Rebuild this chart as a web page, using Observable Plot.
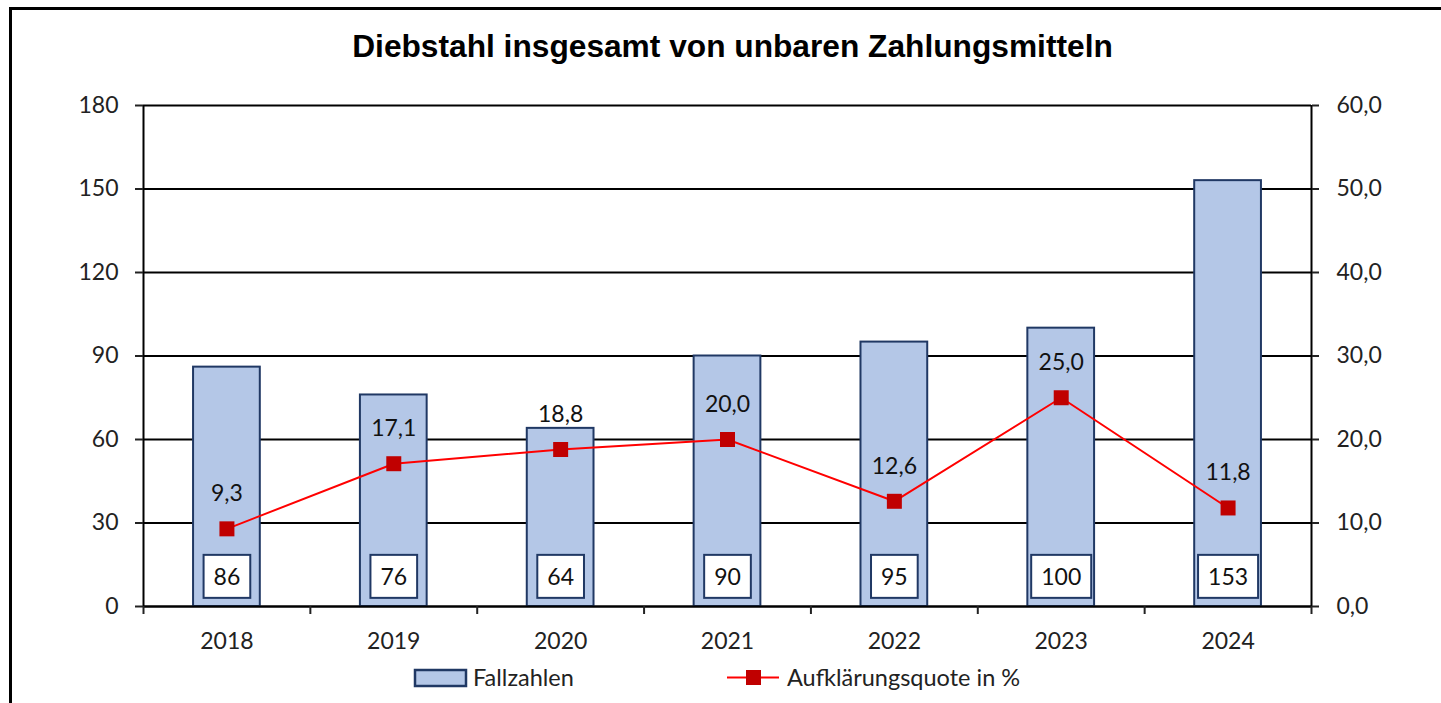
<!DOCTYPE html>
<html><head><meta charset="utf-8">
<script src="https://cdn.jsdelivr.net/npm/d3@7"></script>
<script src="https://cdn.jsdelivr.net/npm/@observablehq/plot@0.6"></script>
<style>
html,body{margin:0;padding:0;background:#fff;overflow:hidden;width:1441px;height:703px;position:relative;}
#frame{position:absolute;left:9px;top:7px;width:1500px;height:800px;border:3px solid #000;box-sizing:border-box;z-index:5;pointer-events:none;}
#title{position:absolute;left:0;width:1465px;top:28px;line-height:36px;text-align:center;font:bold 31.7px "Liberation Sans",Arial,sans-serif;color:#000;white-space:nowrap;}
#chart{position:absolute;left:0;top:80px;}
#legend{position:absolute;left:0;top:650px;}
</style>
</head><body>
<div id="frame"></div>
<div id="title">Diebstahl insgesamt von unbaren Zahlungsmitteln</div>
<div id="chart"></div>
<svg id="legend" width="1441" height="53" font-family="Lato, sans-serif" font-size="23.5">
  <rect x="415" y="20" width="51" height="16" fill="#B4C7E7" stroke="#203864" stroke-width="2.5"></rect>
  <text x="473" y="36" fill="#222">Fallzahlen</text>
  <line x1="727" x2="779" y1="27.5" y2="27.5" stroke="#FF0000" stroke-width="2"></line>
  <rect x="746" y="20" width="15" height="15" fill="#C00000"></rect>
  <text x="787" y="36" fill="#222">Aufklärungsquote in %</text>
</svg>
<script>
const years = [2018, 2019, 2020, 2021, 2022, 2023, 2024];
const cases = [86, 76, 64, 90, 95, 100, 153];
const quote = [9.3, 17.1, 18.8, 20.0, 12.6, 25.0, 11.8];
const quoteLabels = ["9,3", "17,1", "18,8", "20,0", "12,6", "25,0", "11,8"];
const leftTicks = [0, 30, 60, 90, 120, 150, 180];
const rightTicks = [0, 10, 20, 30, 40, 50, 60];
const rightTickLabels = ["0,0", "10,0", "20,0", "30,0", "40,0", "50,0", "60,0"];

const ratio = 180 / 60;
const data = years.map((year, i) => ({year, cases: cases[i], quote: quote[i], qLabel: quoteLabels[i]}));
const bounds = years.map(y => y - 0.5).concat([years[years.length - 1] + 0.5]);
const halfBar = 0.2;

const chart = Plot.plot({
  width: 1441, height: 574,
  marginLeft: 143, marginRight: 130, marginTop: 25, marginBottom: 48,
  style: {fontFamily: "Lato, sans-serif", fontSize: "23px", color: "#222", background: "transparent", overflow: "visible"},
  x: {type: "linear", domain: [bounds[0], bounds[bounds.length - 1]]},
  y: {domain: [0, 180]},
  marks: [
    Plot.ruleY(leftTicks, {stroke: "#000", strokeWidth: 2}),
    Plot.rectY(data, {x1: d => d.year - halfBar, x2: d => d.year + halfBar, y: "cases", fill: "#B4C7E7", stroke: "#203864", strokeWidth: 2}),
    Plot.ruleY([0], {stroke: "#000", strokeWidth: 2}),
    Plot.ruleX([bounds[0], bounds[bounds.length - 1]], {stroke: "#000", strokeWidth: 2}),
    Plot.axisY({ticks: leftTicks, tickSize: 8, tickPadding: 17, strokeWidth: 2, label: null, tickFormat: d => String(d)}),
    Plot.axisY({anchor: "right", ticks: rightTicks.map(t => t * ratio), tickSize: 7, tickPadding: 18, strokeWidth: 2, label: null,
      tickFormat: d => rightTickLabels[rightTicks.indexOf(Math.round(d / ratio))]}),
    Plot.axisX({ticks: bounds, tickFormat: () => "", tickSize: 8, strokeWidth: 2, label: null}),
    Plot.axisX({ticks: years, tickFormat: d => String(d), tickSize: 0, tickPadding: 26, label: null}),
    Plot.line(data, {x: "year", y: d => d.quote * ratio, stroke: "#FF0000", strokeWidth: 2}),
    Plot.dot(data, {x: "year", y: d => d.quote * ratio, symbol: "square", r: 8.46, fill: "#C00000", stroke: "none"}),
    Plot.text(data, {x: "year", y: d => d.quote * ratio, text: "qLabel", dy: -35, fill: "#111"}),
    Plot.text(data, {x: "year", y: 0, text: d => String(d.cases), dy: -29, fill: "#111"})
  ]
});
document.getElementById("chart").appendChild(chart);

const ns = "http://www.w3.org/2000/svg";
const textGroups = chart.querySelectorAll('g[aria-label="text"]');
const caseGroup = textGroups[textGroups.length - 1];
if (caseGroup) {
  caseGroup.querySelectorAll("text").forEach(t => {
    const bb = t.getBBox();
    const r = document.createElementNS(ns, "rect");
    const w = bb.width + 20, h = 43;
    const cy = bb.y + bb.height / 2 + 0.5;
    r.setAttribute("x", bb.x + bb.width / 2 - w / 2);
    r.setAttribute("y", cy - h / 2);
    r.setAttribute("width", w);
    r.setAttribute("height", h);
    r.setAttribute("fill", "#fff");
    r.setAttribute("stroke", "#203864");
    r.setAttribute("stroke-width", "2");
    const tr = t.getAttribute("transform");
    if (tr) r.setAttribute("transform", tr);
    t.parentNode.insertBefore(r, t);
  });
}
</script>
</body></html>
